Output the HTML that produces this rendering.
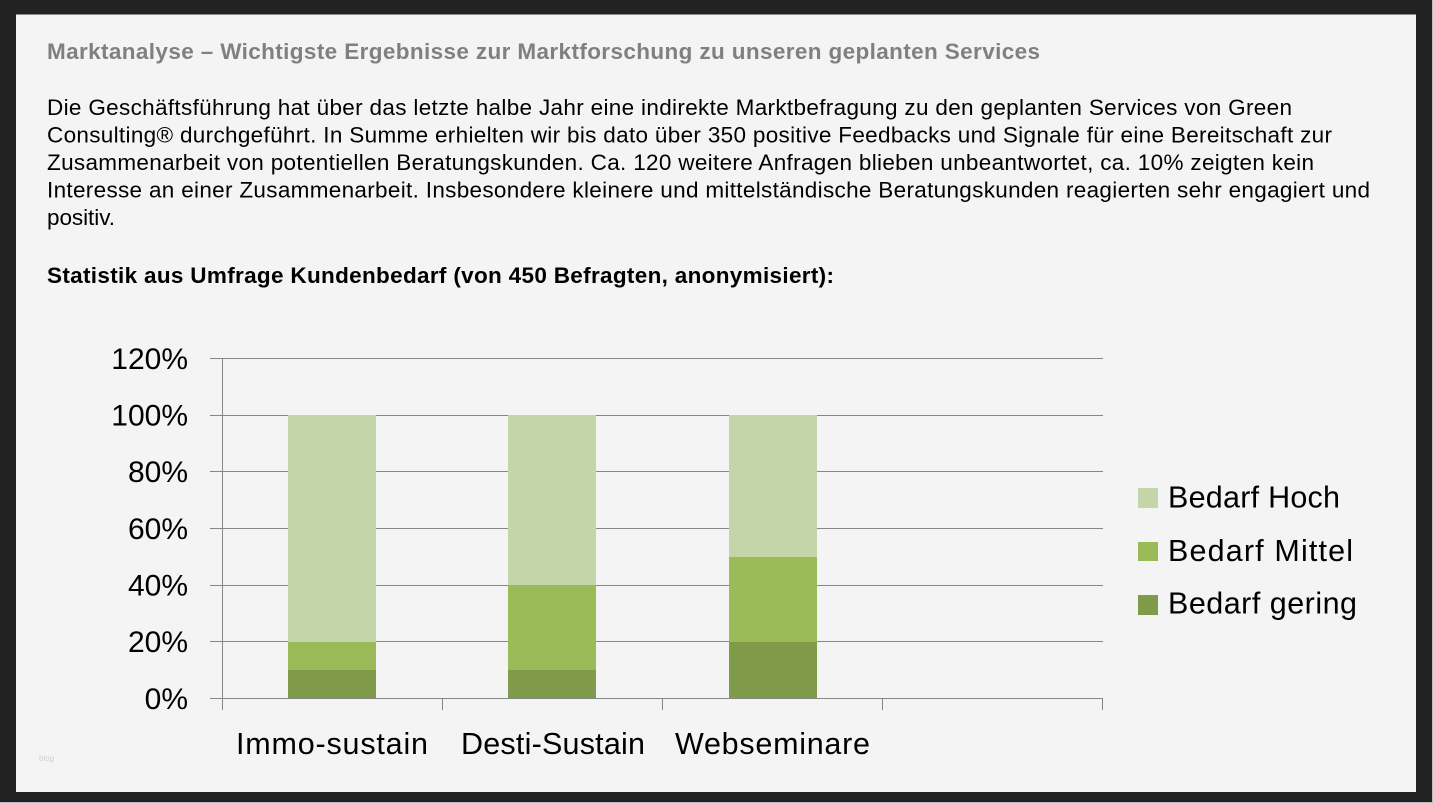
<!DOCTYPE html>
<html>
<head>
<meta charset="utf-8">
<style>
html,body{margin:0;padding:0;background:#222;}
svg{display:block;}
</style>
</head>
<body>
<svg width="1433" height="803" viewBox="0 0 1433 803" xmlns="http://www.w3.org/2000/svg">
  <rect x="0" y="0" width="1433" height="803" fill="#222222"/>
  <rect x="1432" y="0" width="1" height="803" fill="#bdbdbd"/>
  <rect x="0" y="802" width="1433" height="1" fill="#bdbdbd"/>
  <rect x="16" y="15" width="1400" height="777" fill="#f4f4f4"/>
  <rect x="16" y="14" width="1400" height="1" fill="#8a8a8a"/>

  <!-- Title -->
  <text x="47" y="59" font-family="Liberation Sans, Arial, sans-serif" font-size="22.5" font-weight="bold" fill="#808080" textLength="993" lengthAdjust="spacing">Marktanalyse – Wichtigste Ergebnisse zur Marktforschung zu unseren geplanten Services</text>

  <!-- Body -->
  <g font-family="Liberation Sans, Arial, sans-serif" font-size="22.5" fill="#000">
    <text x="47" y="115" textLength="1245" lengthAdjust="spacing">Die Geschäftsführung hat über das letzte halbe Jahr eine indirekte Marktbefragung zu den geplanten Services von Green</text>
    <text x="47" y="142.5" textLength="1285" lengthAdjust="spacing">Consulting® durchgeführt. In Summe erhielten wir bis dato über 350 positive Feedbacks und Signale für eine Bereitschaft zur</text>
    <text x="47" y="170" textLength="1267" lengthAdjust="spacing">Zusammenarbeit von potentiellen Beratungskunden. Ca. 120 weitere Anfragen blieben unbeantwortet, ca. 10% zeigten kein</text>
    <text x="47" y="197.5" textLength="1323" lengthAdjust="spacing">Interesse an einer Zusammenarbeit. Insbesondere kleinere und mittelständische Beratungskunden reagierten sehr engagiert und</text>
    <text x="47" y="225" textLength="68" lengthAdjust="spacing">positiv.</text>
    <text x="47" y="283" font-weight="bold" font-size="22.5" textLength="787" lengthAdjust="spacing">Statistik aus Umfrage Kundenbedarf (von 450 Befragten, anonymisiert):</text>
  </g>

  <!-- Gridlines -->
  <g stroke="#868686" stroke-width="1" shape-rendering="crispEdges">
    <line x1="210" y1="358.5" x2="1103" y2="358.5"/>
    <line x1="210" y1="415.5" x2="1103" y2="415.5"/>
    <line x1="210" y1="471.5" x2="1103" y2="471.5"/>
    <line x1="210" y1="528.5" x2="1103" y2="528.5"/>
    <line x1="210" y1="585.5" x2="1103" y2="585.5"/>
    <line x1="210" y1="641.5" x2="1103" y2="641.5"/>
    <line x1="210" y1="698.5" x2="1103" y2="698.5"/>
    <line x1="222.5" y1="358" x2="222.5" y2="710"/>
    <line x1="442.5" y1="698" x2="442.5" y2="710"/>
    <line x1="662.5" y1="698" x2="662.5" y2="710"/>
    <line x1="882.5" y1="698" x2="882.5" y2="710"/>
    <line x1="1102.5" y1="698" x2="1102.5" y2="710"/>
  </g>

  <!-- Bars -->
  <g shape-rendering="crispEdges">
    <rect x="288" y="415" width="88" height="227" fill="#c4d5aa"/>
    <rect x="288" y="642" width="88" height="28" fill="#9bbb59"/>
    <rect x="288" y="670" width="88" height="28" fill="#7f9a48"/>
    <rect x="508" y="415" width="88" height="170" fill="#c4d5aa"/>
    <rect x="508" y="585" width="88" height="85" fill="#9bbb59"/>
    <rect x="508" y="670" width="88" height="28" fill="#7f9a48"/>
    <rect x="729" y="415" width="88" height="142" fill="#c4d5aa"/>
    <rect x="729" y="557" width="88" height="85" fill="#9bbb59"/>
    <rect x="729" y="642" width="88" height="56" fill="#7f9a48"/>
  </g>

  <!-- Y axis labels -->
  <g font-family="Liberation Sans, Arial, sans-serif" font-size="30" fill="#000" text-anchor="end">
    <text x="188" y="369">120%</text>
    <text x="188" y="425.5">100%</text>
    <text x="188" y="482">80%</text>
    <text x="188" y="539">60%</text>
    <text x="188" y="595.5">40%</text>
    <text x="188" y="652">20%</text>
    <text x="188" y="709">0%</text>
  </g>

  <!-- Category labels -->
  <g font-family="Liberation Sans, Arial, sans-serif" font-size="30.5" fill="#000">
    <text x="236" y="754" textLength="192" lengthAdjust="spacing">Immo-sustain</text>
    <text x="461" y="754" textLength="184" lengthAdjust="spacing">Desti-Sustain</text>
    <text x="675" y="754" textLength="195" lengthAdjust="spacing">Webseminare</text>
  </g>

  <!-- Legend -->
  <g shape-rendering="crispEdges">
    <rect x="1138" y="488" width="20" height="20" fill="#c4d5aa"/>
    <rect x="1138" y="542" width="20" height="19" fill="#9bbb59"/>
    <rect x="1138" y="595" width="20" height="20" fill="#7f9a48"/>
  </g>
  <g font-family="Liberation Sans, Arial, sans-serif" font-size="30.5" fill="#000">
    <text x="1168" y="507.5" textLength="172" lengthAdjust="spacing">Bedarf Hoch</text>
    <text x="1168" y="561" textLength="185" lengthAdjust="spacing">Bedarf Mittel</text>
    <text x="1168" y="613.5" textLength="189" lengthAdjust="spacing">Bedarf gering</text>
  </g>

  <!-- watermark -->
  <text x="39" y="761" font-family="Liberation Sans, Arial, sans-serif" font-size="8" fill="#cfcfcf">blog</text>
</svg>
</body>
</html>
